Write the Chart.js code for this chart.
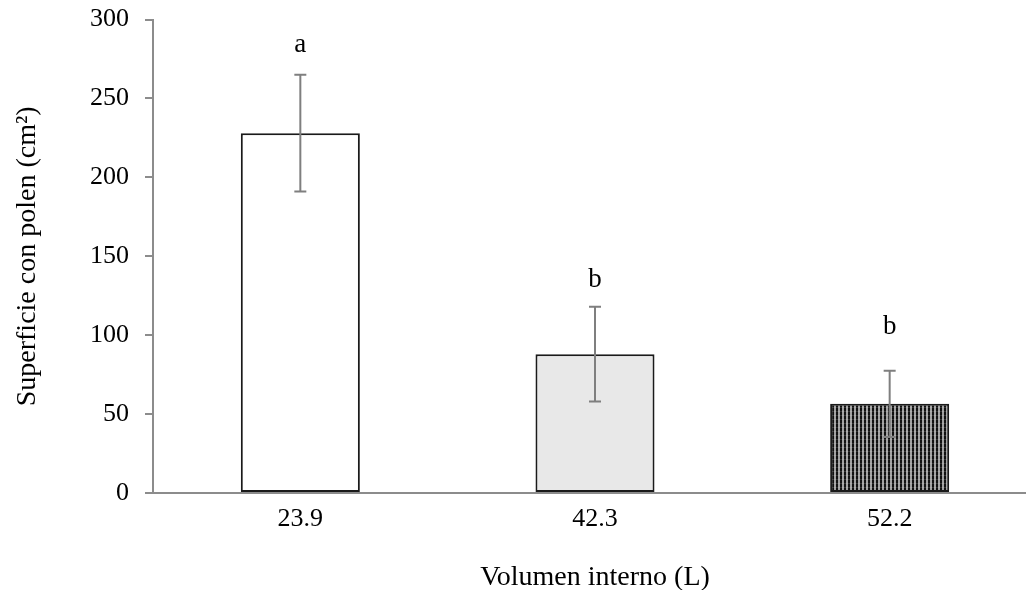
<!DOCTYPE html>
<html lang="es">
<head>
<meta charset="UTF-8">
<title>Superficie con polen</title>
<script src="https://cdn.jsdelivr.net/npm/chart.js"></script>
<style>
  html, body { margin: 0; padding: 0; background: #fff; overflow: hidden; }
  /* the plot runs a little past the right edge, as in the original */
  #wrap { width: 1037px; height: 602px; margin-top: -12px; }
</style>
</head>
<body>
<div id="wrap"><canvas id="chart"></canvas></div>
<script>
const categories = ['23.9', '42.3', '52.2'];
const means = [228, 88, 56.5];
const errors = [37, 30, 21];
const letters = ['a', 'b', 'b'];
const letterHeights = [284, 135, 105];
const yTicks = [0, 50, 100, 150, 200, 250, 300];

const serif = '"Liberation Serif", "DejaVu Serif", serif';

// vertical stripe fill for the third bar
function stripes() {
  const c = document.createElement('canvas');
  c.width = 4; c.height = 4;
  const g = c.getContext('2d');
  g.fillStyle = '#a0a0a0';
  g.fillRect(0, 0, 4, 4);
  g.fillStyle = '#111';
  g.fillRect(0, 0, 2, 4);
  g.fillStyle = 'rgba(255,255,255,0.15)';
  g.fillRect(0, 3, 4, 1);
  return g.createPattern(c, 'repeat');
}

const errorBars = {
  id: 'errorBars',
  afterDatasetsDraw(chart) {
    const { ctx, scales: { x, y } } = chart;
    ctx.save();
    ctx.strokeStyle = '#7f7f7f';
    ctx.lineWidth = 2;
    means.forEach((m, i) => {
      const px = x.getPixelForValue(i);
      const top = y.getPixelForValue(m + errors[i]);
      const bot = y.getPixelForValue(m - errors[i]);
      ctx.beginPath();
      ctx.moveTo(px, top); ctx.lineTo(px, bot);
      ctx.moveTo(px - 6, top); ctx.lineTo(px + 6, top);
      ctx.moveTo(px - 6, bot); ctx.lineTo(px + 6, bot);
      ctx.stroke();
    });
    ctx.fillStyle = '#000';
    ctx.font = '27px ' + serif;
    ctx.textAlign = 'center';
    ctx.textBaseline = 'middle';
    letters.forEach((l, i) => {
      ctx.fillText(l, x.getPixelForValue(i), y.getPixelForValue(letterHeights[i]));
    });
    ctx.restore();
  }
};

new Chart(document.getElementById('chart'), {
  type: 'bar',
  data: {
    labels: categories,
    datasets: [{
      data: means,
      backgroundColor: ['#ffffff', '#e8e8e8', stripes()],
      borderColor: '#1a1a1a',
      borderWidth: 2,
      borderSkipped: false,
      categoryPercentage: 1,
      barPercentage: 0.404
    }]
  },
  options: {
    responsive: true,
    maintainAspectRatio: false,
    animation: false,
    layout: { padding: { top: 5, right: 0, left: 0, bottom: 0 } },
    plugins: { legend: { display: false }, tooltip: { enabled: false } },
    scales: {
      x: {
        grid: { display: false },
        border: { color: '#8c8c8c', width: 2 },
        ticks: { color: '#000', font: { family: serif, size: 26 }, padding: 3 },
        title: {
          display: true, text: 'Volumen interno (L)', color: '#000',
          font: { family: serif, size: 28, lineHeight: 0.85 }, padding: { top: 10, bottom: 0 }
        },
        afterFit: s => { s.height = 97; }
      },
      y: {
        min: 0, max: 300,
        afterBuildTicks: s => { s.ticks = yTicks.map(v => ({ value: v })); },
        grid: { drawOnChartArea: false, drawTicks: true, tickLength: 8, color: '#8c8c8c', lineWidth: 2 },
        border: { color: '#8c8c8c', width: 2 },
        ticks: { color: '#000', font: { family: serif, size: 26 }, padding: 16 },
        title: {
          display: true, text: 'Superficie con polen (cm²)', color: '#000',
          font: { family: serif, size: 28, lineHeight: 1 }, padding: { top: 14, bottom: 0 }
        },
        afterFit: s => { s.width = 153; }
      }
    }
  },
  plugins: [errorBars]
});
</script>
</body>
</html>
